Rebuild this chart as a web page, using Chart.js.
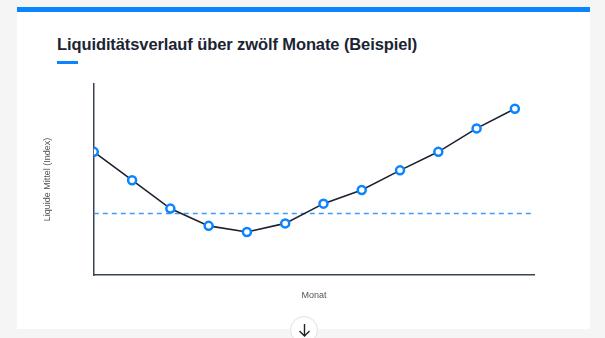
<!DOCTYPE html>
<html lang="de">
<head>
<meta charset="utf-8">
<title>Liquiditätsverlauf</title>
<script src="https://cdn.jsdelivr.net/npm/chart.js@4"></script>
<style>
  html, body { margin: 0; padding: 0; }
  body {
    width: 605px; height: 338px; overflow: hidden;
    background: #f5f5f5;
    font-family: "Liberation Sans", Arial, sans-serif;
    position: relative;
  }
  .card {
    position: absolute; left: 17px; top: 7px; width: 573px; height: 322px;
    background: #fff; border-top: 5px solid #0a84ff; box-sizing: border-box;
  }
  h1 {
    position: absolute; left: 40px; top: 23px; margin: 0;
    font-size: 16.5px; font-weight: bold; color: #1b2433; letter-spacing: -0.1px;
    white-space: nowrap;
  }
  .accent {
    position: absolute; left: 40px; top: 49px; width: 21px; height: 3px; background: #0a84ff;
  }
  .chart-box { position: absolute; left: 0; top: 63px; width: 573px; height: 226px; }
  .scroll-btn {
    position: absolute; left: 290px; top: 316px; width: 28px; height: 28px;
    border-radius: 50%; background: #fff; border: 1px solid #e2e2e2;
    box-sizing: border-box;
  }
  .scroll-btn svg { position: absolute; left: 7px; top: 6px; }
</style>
</head>
<body>
<div class="card">
  <h1>Liquiditätsverlauf über zwölf Monate (Beispiel)</h1>
  <div class="accent"></div>
  <div class="chart-box"><canvas id="liquidityChart"></canvas></div>
</div>
<div class="scroll-btn">
  <svg width="13" height="14" viewBox="0 0 13 14"><path d="M6.5 1 V13 M1.5 8 L6.5 13 L11.5 8" fill="none" stroke="#222" stroke-width="1.4"/></svg>
</div>

<script>
// data (index values)
const months = ["Jan", "Feb", "Mär", "Apr", "Mai", "Jun", "Jul", "Aug", "Sep", "Okt", "Nov", "Dez"];
const liquidity = [100, 77, 54, 40, 35, 42, 58, 69, 85, 100, 119, 135];
const threshold = 50;

const lineData = liquidity.map((v, i) => ({ x: i + 1, y: v }));
const thresholdData = [{ x: 1, y: threshold }, { x: 12.5, y: threshold }];

const ctx = document.getElementById("liquidityChart").getContext("2d");

new Chart(ctx, {
    type: "line",
    data: {
        datasets: [
            {
                label: "Liquide Mittel",
                data: lineData,
                borderColor: "#1c2230",
                borderWidth: 1.6,
                pointRadius: 4,
                pointBorderWidth: 2.5,
                pointBorderColor: "#0a84ff",
                pointBackgroundColor: "#ffffff",
                tension: 0
            },
            {
                label: "Schwelle",
                data: thresholdData,
                borderColor: "#3d9bff",
                borderWidth: 1.5,
                borderDash: [5, 4],
                pointRadius: 0
            }
        ]
    },
    options: {
        responsive: true,
        maintainAspectRatio: false,
        animation: false,
        layout: {
            autoPadding: false,
            padding: { left: 25, right: 56, top: 9, bottom: 0 }
        },
        plugins: {
            legend: { display: false },
            tooltip: { enabled: false }
        },
        scales: {
            x: {
                type: "linear",
                min: 1,
                max: 12.5,
                grid: { display: false, drawTicks: false },
                border: { display: true, color: "#3b4350", width: 1.5 },
                ticks: { display: false },
                title: {
                    display: true,
                    text: "Monat",
                    color: "#555",
                    font: { size: 9, family: "Liberation Sans" },
                    padding: { top: 15, bottom: 0 }
                }
            },
            y: {
                min: 0,
                max: 155,
                grid: { display: false, drawTicks: false },
                border: { display: true, color: "#3b4350", width: 1.5 },
                ticks: { display: false },
                title: {
                    display: true,
                    text: "Liquide Mittel (Index)",
                    color: "#555",
                    font: { size: 9, family: "Liberation Sans" },
                    padding: { top: 0, bottom: 41 }
                }
            }
        }
    }
});
</script>
</body>
</html>
